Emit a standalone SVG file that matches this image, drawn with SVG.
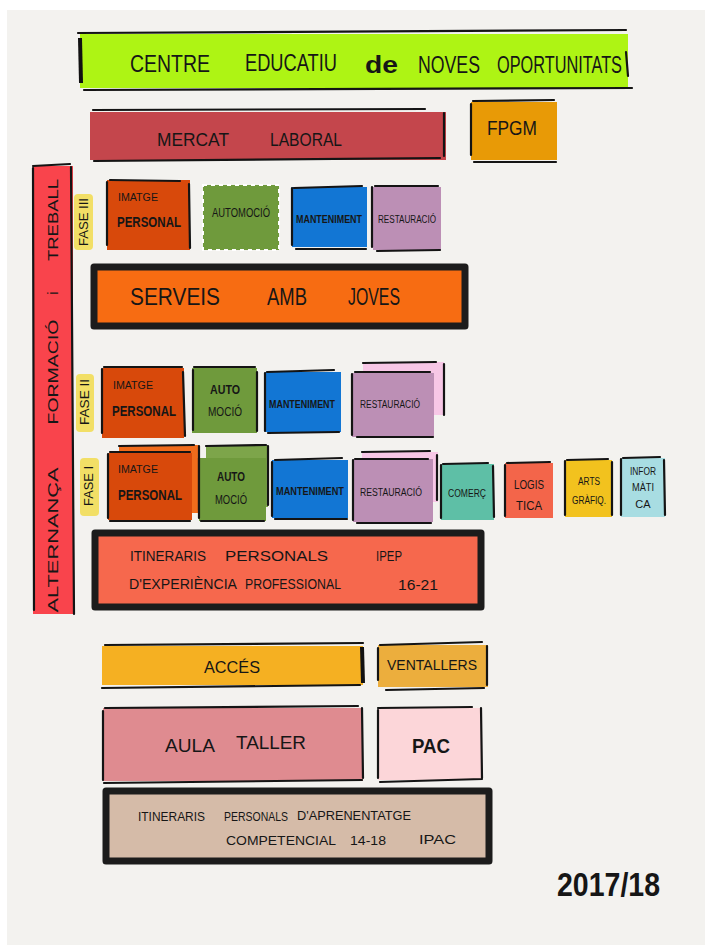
<svg xmlns="http://www.w3.org/2000/svg" width="705" height="945" viewBox="0 0 705 945">
<style>
text{font-family:"Liberation Sans","DejaVu Sans",sans-serif;fill:#161616;text-anchor:start;dominant-baseline:central}
.c{text-anchor:middle}
.ln{fill:none;stroke:#141414;stroke-width:2.2;stroke-linecap:round}
.thick{fill:none;stroke:#1c1c1c;stroke-width:7;stroke-linejoin:round}
.t{font-size:11px}
.s{font-size:9px}
.b{font-weight:bold}
</style>
<rect x="0" y="0" width="705" height="945" fill="#ffffff"/>
<rect x="7" y="10" width="698" height="935" fill="#f3f2ef"/>

<g id="title">
<rect x="80" y="34" width="548" height="54" fill="#aef414"/>
<path class="ln" d="M78 33 L626 30 M84 90 L632 88 M626 52 L628 76"/>
<path d="M80 38 L81 83" stroke="#111" stroke-width="4"/>
<g font-size="24" lengthAdjust="spacingAndGlyphs">
<text x="130" y="63" textLength="80" lengthAdjust="spacingAndGlyphs">CENTRE</text>
<text x="245" y="62" textLength="92" lengthAdjust="spacingAndGlyphs">EDUCATIU</text>
<text x="365" y="64" textLength="33" lengthAdjust="spacingAndGlyphs" class="b">de</text>
<text x="418" y="64" textLength="62" lengthAdjust="spacingAndGlyphs">NOVES</text>
<text x="497" y="64" textLength="125" lengthAdjust="spacingAndGlyphs">OPORTUNITATS</text>
</g>
</g>

<g id="mercat">
<rect x="90" y="112" width="356" height="48" fill="#c4464c"/>
<path class="ln" d="M93 110 L425 109 M94 161 L440 158 M444 113 L444 156"/>
<g font-size="18">
<text x="157" y="140" textLength="72" lengthAdjust="spacingAndGlyphs">MERCAT</text>
<text x="270" y="140" textLength="72" lengthAdjust="spacingAndGlyphs">LABORAL</text>
</g>
</g>

<g id="fpgm">
<rect x="471" y="102" width="86" height="58" fill="#e89a06"/>
<path class="ln" d="M471 104 L471 155 M473 101 L554 100 M474 162 L556 162"/>
<text x="487" y="128" font-size="20" textLength="50" lengthAdjust="spacingAndGlyphs">FPGM</text>
</g>

<g id="alternanca">
<rect x="33" y="166" width="40" height="448" fill="#f9444c"/>
<path class="ln" d="M33 168 L34 610 M71 167 L74 614 M33 166 L70 164"/>
<g font-size="15">
<text class="c" transform="translate(52 220) rotate(-90)" textLength="82" lengthAdjust="spacingAndGlyphs">TREBALL</text>
<text class="c" transform="translate(52 293) rotate(-90)">i</text>
<text class="c" transform="translate(52 372) rotate(-90)" textLength="105" lengthAdjust="spacingAndGlyphs">FORMACIÓ</text>
<text class="c" transform="translate(52 540) rotate(-90)" textLength="145" lengthAdjust="spacingAndGlyphs">ALTERNANÇA</text>
</g>
</g>

<g id="fase3">
<rect x="74" y="194" width="19" height="56" rx="4" fill="#f2df66"/>
<text class="c" transform="translate(84 222) rotate(-90)" font-size="12" textLength="48" lengthAdjust="spacingAndGlyphs">FASE III</text>
</g>
<g id="imatge3">
<rect x="107" y="180" width="83" height="70" fill="#d8490b"/>
<path class="ln" d="M107 182 L107 245 M110 180 L180 181 M189 184 L190 248"/>
<text x="118" y="197" class="t" textLength="40" lengthAdjust="spacingAndGlyphs">IMATGE</text>
<text x="117" y="222" font-size="14" class="b" textLength="64" lengthAdjust="spacingAndGlyphs">PERSONAL</text>
</g>
<g id="automocio3">
<rect x="203" y="185" width="76" height="65" fill="#6f9a3c"/>
<rect x="203" y="185" width="76" height="65" fill="none" stroke="#ffffff" stroke-width="2" stroke-dasharray="4 4"/>
<text x="212" y="213" font-size="12" textLength="58" lengthAdjust="spacingAndGlyphs">AUTOMOCIÓ</text>
</g>
<g id="manteniment3">
<rect x="292" y="187" width="75" height="60" fill="#1276d4"/>
<path class="ln" d="M292 188 L292 245 M294 188 L362 186 M296 249 L366 249"/>
<text x="296" y="219" font-size="11" class="b" textLength="66" lengthAdjust="spacingAndGlyphs">MANTENIMENT</text>
</g>
<g id="restauracio3">
<rect x="373" y="187" width="68" height="63" fill="#bc8fb5"/>
<path class="ln" d="M372 187 L372 247 M375 186 L438 186 M377 251 L440 250"/>
<text x="378" y="219" font-size="10" textLength="58" lengthAdjust="spacingAndGlyphs">RESTAURACIÓ</text>
</g>

<g id="serveis">
<rect x="94" y="267" width="371" height="59" fill="#f76c12"/>
<rect x="94" y="267" width="371" height="59" class="thick"/>
<g font-size="24">
<text x="130" y="296" textLength="90" lengthAdjust="spacingAndGlyphs">SERVEIS</text>
<text x="267" y="296" textLength="40" lengthAdjust="spacingAndGlyphs">AMB</text>
<text x="348" y="296" textLength="52" lengthAdjust="spacingAndGlyphs">JOVES</text>
</g>
</g>

<g id="fase2">
<rect x="76" y="374" width="18" height="58" rx="4" fill="#f2df66"/>
<text class="c" transform="translate(85 402) rotate(-90)" font-size="12" textLength="46" lengthAdjust="spacingAndGlyphs">FASE II</text>
</g>
<g id="imatge2">
<rect x="102" y="368" width="82" height="70" fill="#d8490b"/>
<path class="ln" d="M102 369 L102 433 M104 367 L182 367 M183 372 L185 436"/>
<text x="113" y="385" class="t" textLength="40" lengthAdjust="spacingAndGlyphs">IMATGE</text>
<text x="112" y="411" font-size="14" class="b" textLength="64" lengthAdjust="spacingAndGlyphs">PERSONAL</text>
</g>
<g id="automocio2">
<rect x="192" y="368" width="65" height="65" fill="#6f9a3c"/>
<path class="ln" d="M193 370 L193 430 M194 367 L255 367 M257 372 L257 431"/>
<text x="225" y="389" class="c b" font-size="13" textLength="30" lengthAdjust="spacingAndGlyphs">AUTO</text>
<text x="225" y="411" class="c" font-size="13" textLength="34" lengthAdjust="spacingAndGlyphs">MOCIÓ</text>
</g>
<g id="manteniment2">
<rect x="265" y="372" width="76" height="60" fill="#1276d4"/>
<path class="ln" d="M265 373 L265 431 M267 372 L334 370 M268 433 L339 432"/>
<text x="269" y="404" font-size="11" class="b" textLength="66" lengthAdjust="spacingAndGlyphs">MANTENIMENT</text>
</g>
<g id="restauracio2">
<rect x="363" y="362" width="81" height="53" fill="#f7c7e6"/>
<path class="ln" d="M363 363 L436 362 M444 364 L444 415"/>
<rect x="352" y="373" width="82" height="64" fill="#bc8fb5"/>
<path class="ln" d="M352 374 L352 435 M355 372 L430 372 M357 437 L433 437"/>
<text x="360" y="404" font-size="10" textLength="60" lengthAdjust="spacingAndGlyphs">RESTAURACIÓ</text>
</g>

<g id="fase1">
<rect x="80" y="458" width="19" height="58" rx="4" fill="#f2df66"/>
<text class="c" transform="translate(89 486) rotate(-90)" font-size="12" textLength="40" lengthAdjust="spacingAndGlyphs">FASE I</text>
</g>
<g id="imatge1">
<rect x="119" y="445" width="80" height="68" fill="#f06c1c"/>
<path class="ln" d="M119 446 L194 445 M199 446 L199 510"/>
<rect x="108" y="453" width="84" height="67" fill="#d8490b"/>
<path class="ln" d="M108 454 L108 518 M110 452 L190 452 M110 521 L190 521"/>
<text x="118" y="469" class="t" textLength="40" lengthAdjust="spacingAndGlyphs">IMATGE</text>
<text x="118" y="495" font-size="14" class="b" textLength="64" lengthAdjust="spacingAndGlyphs">PERSONAL</text>
</g>
<g id="automocio1">
<rect x="206" y="445" width="62" height="62" fill="#7da54a"/>
<path class="ln" d="M206 446 L266 445 M268 446 L268 505"/>
<rect x="199" y="458" width="67" height="63" fill="#6f9a3c"/>
<path class="ln" d="M199 458 L199 518 M201 521 L264 521"/>
<text x="231" y="476" class="c b" font-size="13" textLength="28" lengthAdjust="spacingAndGlyphs">AUTO</text>
<text x="231" y="499" class="c" font-size="13" textLength="32" lengthAdjust="spacingAndGlyphs">MOCIÓ</text>
</g>
<g id="manteniment1">
<rect x="272" y="460" width="76" height="58" fill="#1276d4"/>
<path class="ln" d="M272 462 L272 516 M275 460 L342 458 M275 519 L347 519"/>
<text x="276" y="491" font-size="11" class="b" textLength="68" lengthAdjust="spacingAndGlyphs">MANTENIMENT</text>
</g>
<g id="restauracio1">
<rect x="362" y="452" width="76" height="50" fill="#f7c7e6"/>
<path class="ln" d="M362 452 L430 451 M437 455 L437 500"/>
<rect x="353" y="459" width="80" height="63" fill="#bc8fb5"/>
<path class="ln" d="M353 460 L353 520 M355 459 L428 459 M357 523 L431 523"/>
<text x="360" y="492" font-size="10" textLength="62" lengthAdjust="spacingAndGlyphs">RESTAURACIÓ</text>
</g>
<g id="comerc">
<rect x="441" y="464" width="53" height="56" fill="#5ebfa6"/>
<path class="ln" d="M441 465 L441 518 M443 464 L488 463 M493 466 L494 517"/>
<text x="467" y="493" class="c" font-size="10" textLength="38" lengthAdjust="spacingAndGlyphs">COMERÇ</text>
</g>
<g id="logistica">
<rect x="505" y="463" width="48" height="55" fill="#f3654a"/>
<path class="ln" d="M505 465 L505 516 M507 463 L550 462"/>
<text x="529" y="484" class="c" font-size="13" textLength="30" lengthAdjust="spacingAndGlyphs">LOGIS</text>
<text x="529" y="505" class="c" font-size="13" textLength="26" lengthAdjust="spacingAndGlyphs">TICA</text>
</g>
<g id="artsgrafiques">
<rect x="565" y="460" width="47" height="57" fill="#f2c21e"/>
<path class="ln" d="M565 461 L565 515 M567 460 L608 459 M612 462 L612 515"/>
<text x="589" y="481" class="c" font-size="11" textLength="22" lengthAdjust="spacingAndGlyphs">ARTS</text>
<text x="589" y="500" class="c" font-size="11" textLength="34" lengthAdjust="spacingAndGlyphs">GRÀFIQ.</text>
</g>
<g id="informatica">
<rect x="621" y="458" width="44" height="59" fill="#a8dde2"/>
<path class="ln" d="M621 459 L621 515 M623 458 L660 457 M664 460 L665 515"/>
<text x="643" y="471" class="c" font-size="11" textLength="26" lengthAdjust="spacingAndGlyphs">INFOR</text>
<text x="643" y="487" class="c" font-size="11" textLength="22" lengthAdjust="spacingAndGlyphs">MÀTI</text>
<text x="643" y="504" class="c" font-size="11">CA</text>
</g>

<g id="ipep">
<rect x="95" y="533" width="386" height="74" fill="#f6684d"/>
<rect x="95" y="533" width="386" height="74" class="thick"/>
<g font-size="14">
<text x="130" y="556" textLength="76" lengthAdjust="spacingAndGlyphs">ITINERARIS</text>
<text x="225" y="556" textLength="103" lengthAdjust="spacingAndGlyphs">PERSONALS</text>
<text x="376" y="556" textLength="26" lengthAdjust="spacingAndGlyphs">IPEP</text>
<text x="129" y="584" textLength="108" lengthAdjust="spacingAndGlyphs">D'EXPERIÈNCIA</text>
<text x="245" y="584" textLength="96" lengthAdjust="spacingAndGlyphs">PROFESSIONAL</text>
<text x="398" y="585" textLength="40" lengthAdjust="spacingAndGlyphs">16-21</text>
</g>
</g>

<g id="acces">
<rect x="102" y="646" width="261" height="39" fill="#f5b022"/>
<path class="ln" d="M105 645 L363 643 M102 688 L360 685"/>
<path d="M362 647 L363 683" stroke="#111" stroke-width="4"/>
<text x="204" y="667" font-size="17" textLength="56" lengthAdjust="spacingAndGlyphs">ACCÉS</text>
</g>
<g id="ventallers">
<rect x="378" y="645" width="110" height="42" fill="#ecae3d"/>
<path class="ln" d="M378 648 L378 680 M380 645 L482 642 M386 690 L484 688 M487 646 L487 685"/>
<text x="387" y="665" font-size="14" textLength="90" lengthAdjust="spacingAndGlyphs">VENTALLERS</text>
</g>
<g id="aulataller">
<rect x="103" y="708" width="260" height="73" fill="#df8b90"/>
<path class="ln" d="M105 708 L358 706 M104 783 L362 780 M103 711 L103 780 M362 708 L363 778"/>
<g font-size="19">
<text x="165" y="745" textLength="50" lengthAdjust="spacingAndGlyphs">AULA</text>
<text x="236" y="742" textLength="70" lengthAdjust="spacingAndGlyphs">TALLER</text>
</g>
</g>
<g id="pac">
<rect x="378" y="708" width="103" height="72" fill="#fcd6d9"/>
<path class="ln" d="M378 708 L472 707 M380 782 L482 779 M378 710 L378 778 M481 708 L482 778"/>
<text x="412" y="745" font-size="21" class="b" textLength="38" lengthAdjust="spacingAndGlyphs">PAC</text>
</g>

<g id="ipac">
<rect x="106" y="791" width="383" height="70" fill="#d5bba8"/>
<rect x="106" y="791" width="383" height="70" class="thick"/>
<g font-size="13">
<text x="138" y="816" textLength="67" lengthAdjust="spacingAndGlyphs">ITINERARIS</text>
<text x="224" y="816" textLength="64" lengthAdjust="spacingAndGlyphs">PERSONALS</text>
<text x="297" y="815" textLength="114" lengthAdjust="spacingAndGlyphs">D'APRENENTATGE</text>
<text x="226" y="840" textLength="110" lengthAdjust="spacingAndGlyphs">COMPETENCIAL</text>
<text x="350" y="840" textLength="36" lengthAdjust="spacingAndGlyphs">14-18</text>
<text x="419" y="839" textLength="37" lengthAdjust="spacingAndGlyphs">IPAC</text>
</g>
</g>

<g id="year">
<text x="557" y="884" font-size="34" class="b" textLength="103" lengthAdjust="spacingAndGlyphs">2017/18</text>
</g>
</svg>
